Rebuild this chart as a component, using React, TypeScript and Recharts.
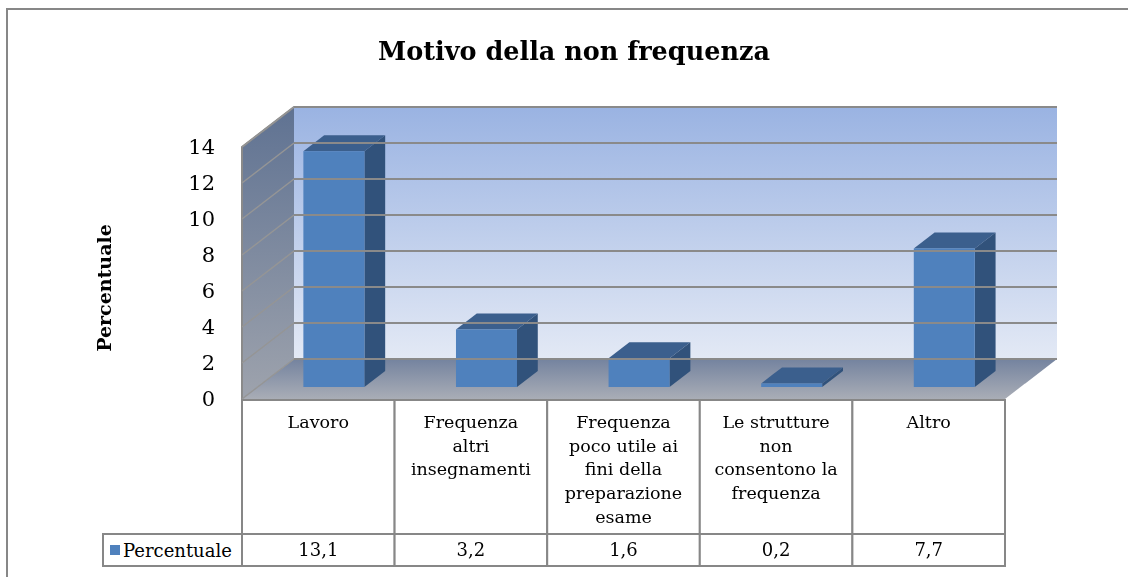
import React from 'react';
import { BarChart, Bar, XAxis, YAxis, ReferenceArea, ReferenceLine, Legend } from 'recharts';

const title = 'Motivo della non frequenza';
const seriesName = 'Percentuale';
const categories = [
  'Lavoro',
  'Frequenza altri insegnamenti',
  'Frequenza poco utile ai fini della preparazione esame',
  'Le strutture non consentono la frequenza',
  'Altro',
];
const categoryLines = [
  ['Lavoro'],
  ['Frequenza', 'altri', 'insegnamenti'],
  ['Frequenza', 'poco utile ai', 'fini della', 'preparazione', 'esame'],
  ['Le strutture', 'non', 'consentono la', 'frequenza'],
  ['Altro'],
];
const percentuale = [13.1, 3.2, 1.6, 0.2, 7.7];
const yTicks = [0, 2, 4, 6, 8, 10, 12, 14];

const data = categories.map((c, i) => ({ cat: c, v: percentuale[i], lines: categoryLines[i] }));

const FONT = "'DejaVu Serif', serif";
const GRID = '#8a8a8a';
const BORDER = '#878787';
const DX = 52;
const DY = -40;
const BAR_D0 = 0.3;
const BAR_D = 0.4;
const W = 1120;
const H = 569;
const MARGIN = { top: 139, right: 123, bottom: 8, left: 0 };
const PLOT_W = W - MARGIN.left - MARGIN.right - 234;

const fmt = (v: number) => v.toFixed(1).replace('.', ',');

const Walls = (p: any) => {
  const { x, y, width: w, height: h } = p;
  const bx = x + DX;
  const by = y + DY;
  return (
    <g>
      <defs>
        <linearGradient id="gBack" x1="0" y1="0" x2="0" y2="1">
          <stop offset="0" stopColor="#9ab3e2" />
          <stop offset="1" stopColor="#e3e9f5" />
        </linearGradient>
        <linearGradient id="gSide" x1="0" y1="0" x2="0" y2="1">
          <stop offset="0" stopColor="#5f7292" />
          <stop offset="1" stopColor="#9ea3ad" />
        </linearGradient>
        <linearGradient id="gFloor" x1="0" y1="0" x2="0" y2="1">
          <stop offset="0" stopColor="#74839f" />
          <stop offset="1" stopColor="#a9adb6" />
        </linearGradient>
      </defs>
      <polygon points={`${bx},${by} ${bx + w},${by} ${bx + w},${by + h} ${bx},${by + h}`} fill="url(#gBack)" />
      <polygon points={`${x},${y} ${bx},${by} ${bx},${by + h} ${x},${y + h}`} fill="url(#gSide)" />
      <polygon points={`${x},${y + h} ${bx},${by + h} ${bx + w},${by + h} ${x + w},${y + h}`} fill="url(#gFloor)" />
      <polyline points={`${x},${y + h} ${x},${y} ${bx},${by} ${bx + w},${by}`} fill="none" stroke={GRID} strokeWidth={2} />
    </g>
  );
};

const GridLine = (p: any) => {
  const { x1, y1, x2, y2 } = p;
  return (
    <g>
      <line x1={x1} y1={y1} x2={x1 + DX} y2={y1 + DY} stroke="#959595" strokeWidth={1.5} />
      <line x1={x1 + DX} y1={y1 + DY} x2={x2 + DX} y2={y2 + DY} stroke={GRID} strokeWidth={2} />
    </g>
  );
};

const Bar3D = (p: any) => {
  const { x, y, width: w, height: h } = p;
  if (w == null || h == null) return null;
  const ox = x + BAR_D0 * DX;
  const oy = y + BAR_D0 * DY;
  const dx = BAR_D * DX;
  const dy = BAR_D * DY;
  return (
    <g>
      <polygon points={`${ox},${oy} ${ox + dx},${oy + dy} ${ox + w + dx},${oy + dy} ${ox + w},${oy}`} fill="#3b5f8d" />
      <polygon points={`${ox + w},${oy} ${ox + w + dx},${oy + dy} ${ox + w + dx},${oy + h + dy} ${ox + w},${oy + h}`} fill="#31527b" />
      <rect x={ox} y={oy} width={w} height={h} fill="#4f81bd" />
    </g>
  );
};

const TableTick = (p: any) => {
  const { x, y, index } = p;
  const cw = PLOT_W / data.length;
  const d = data[index];
  if (!d) return null;
  const left = x - cw / 2;
  return (
    <g>
      <rect x={left} y={y + 1} width={cw} height={134} fill="#fff" stroke={BORDER} strokeWidth={2} />
      <rect x={left} y={y + 135} width={cw} height={32} fill="#fff" stroke={BORDER} strokeWidth={2} />
      <text x={x} y={y + 23} textAnchor="middle" style={{ fontFamily: FONT }} fontSize={17.5} fill="#000">
        {d.lines.map((l: string, i: number) => (
          <tspan key={i} x={x} y={y + 23 + i * 23.6} dy="0.35em">{l}</tspan>
        ))}
      </text>
      <text x={x} y={y + 151} dy="0.35em" textAnchor="middle" style={{ fontFamily: FONT }} fontSize={18} fill="#000">
        {fmt(d.v)}
      </text>
    </g>
  );
};

const YLabel = (p: any) => {
  const vb = p.viewBox || { x: 0, y: 0, width: 0, height: 0 };
  const cx = vb.x + 96;
  const cy = vb.y + vb.height / 2 + 15;
  return (
    <text x={cx} y={cy} transform={`rotate(-90 ${cx} ${cy})`} textAnchor="middle" dy="0.35em" style={{ fontFamily: FONT }} fontWeight="bold" fontSize={19} fill="#000">
      {seriesName}
    </text>
  );
};

const LegendCell = (p: any) => {
  const item = (p.payload && p.payload[0]) || { value: seriesName, color: '#4f81bd' };
  return (
    <div style={{ boxSizing: 'border-box', width: 141, height: 34, border: `2px solid ${BORDER}`, display: 'flex', alignItems: 'center', paddingLeft: 6, fontFamily: FONT, fontSize: 18, color: '#000', background: '#fff', whiteSpace: 'nowrap' }}>
      <span style={{ display: 'inline-block', width: 10, height: 10, background: '#4f81bd', marginRight: 3 }} />
      {item.value}
    </div>
  );
};

export default function App() {
  return (
    <div style={{ position: 'relative', width: W, height: H }}>
      <style>{'body{overflow:hidden}'}</style>
      <div style={{ position: 'fixed', left: 6, top: 8, width: 1130, height: 580, borderTop: `2px solid ${BORDER}`, borderLeft: `2px solid ${BORDER}`, boxSizing: 'border-box', pointerEvents: 'none' }} />
      <div style={{ position: 'absolute', left: 266, top: 28, width: 600, textAlign: 'center', fontFamily: FONT, fontWeight: 'bold', fontSize: 25.5, lineHeight: '30px', color: '#000' }}>
        {title}
      </div>
      <BarChart width={W} height={H} data={data} margin={MARGIN} barCategoryGap="30%">
        <XAxis dataKey="cat" height={170} tick={(p: any) => <TableTick {...p} />} tickLine={false} axisLine={false} interval={0} tickSize={0} tickMargin={0} />
        <YAxis domain={[0, 14]} ticks={yTicks} width={234} axisLine={false} tickLine={false} tickSize={0} tickMargin={27} interval={0}
          tick={{ fill: '#000', fontSize: 21, fontFamily: FONT }}
          label={{ content: (p: any) => <YLabel {...p} /> }} />
        <ReferenceArea y1={0} y2={14} shape={(p: any) => <Walls {...p} />} ifOverflow="visible" />
        {yTicks.map((t) => (
          <ReferenceLine key={t} y={t} shape={(p: any) => <GridLine {...p} />} ifOverflow="visible" />
        ))}
        <Bar dataKey="v" name={seriesName} fill="#4f81bd" shape={(p: any) => <Bar3D {...p} />} isAnimationActive={false} />
        <Legend layout="horizontal" verticalAlign="middle" align="center" wrapperStyle={{ position: 'absolute', left: 94, top: 525, width: 141, height: 34 }} content={(p: any) => <LegendCell {...p} />} />
      </BarChart>
    </div>
  );
}
